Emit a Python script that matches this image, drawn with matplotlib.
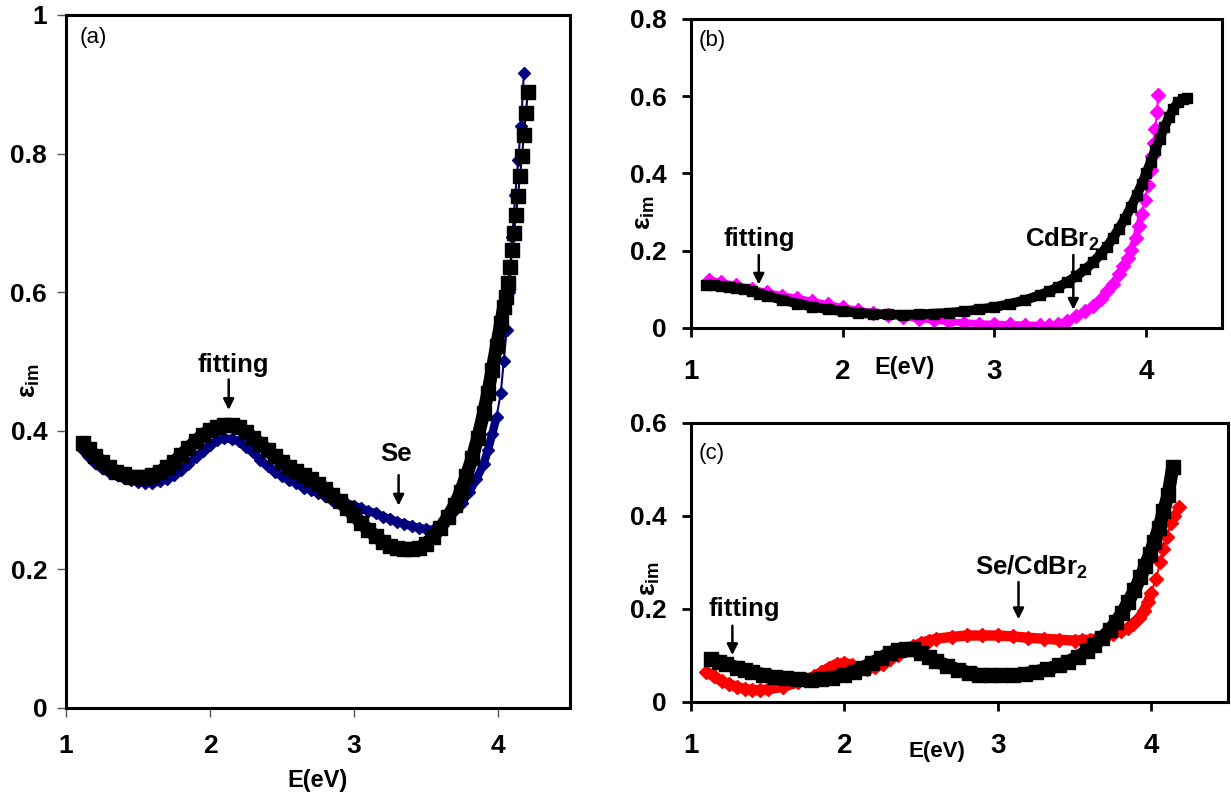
import numpy as np
import matplotlib.pyplot as plt

plt.rcParams['font.family'] = ['Liberation Sans', 'DejaVu Sans']
plt.rcParams['mathtext.fontset'] = 'custom'
plt.rcParams['mathtext.rm'] = 'Liberation Sans'
plt.rcParams['mathtext.bf'] = 'Liberation Sans:bold'

# ---------------- (a) Se ----------------
e_a_se = [1.12, 1.16, 1.2, 1.25, 1.3, 1.35, 1.4, 1.45, 1.5, 1.55, 1.6, 1.65, 1.7, 1.75,
          1.8, 1.85, 1.9, 1.95, 2.0, 2.05, 2.1, 2.15, 2.2, 2.25, 2.3, 2.35, 2.4, 2.45,
          2.5, 2.55, 2.6, 2.65, 2.7, 2.75, 2.8, 2.85, 2.9, 2.95, 3.0, 3.05, 3.1, 3.15,
          3.2, 3.25, 3.3, 3.35, 3.4, 3.45, 3.5, 3.55, 3.6, 3.65, 3.7, 3.75, 3.8, 3.85,
          3.9, 3.93, 3.96, 3.99, 4.02, 4.04, 4.06, 4.08, 4.1, 4.12, 4.14, 4.16, 4.18]
eps_a_se = [0.372, 0.362, 0.354, 0.346, 0.340, 0.337, 0.332, 0.329, 0.326, 0.325, 0.324, 0.327,
            0.330, 0.336, 0.343, 0.352, 0.362, 0.371, 0.380, 0.386, 0.389, 0.388, 0.385, 0.377,
            0.369, 0.358, 0.349, 0.341, 0.335, 0.329, 0.325, 0.318, 0.315, 0.310, 0.306, 0.300,
            0.298, 0.295, 0.292, 0.288, 0.284, 0.281, 0.276, 0.273, 0.268, 0.266, 0.262, 0.260,
            0.258, 0.257, 0.262, 0.272, 0.285, 0.296, 0.312, 0.330, 0.352, 0.372, 0.395, 0.420,
            0.455, 0.500, 0.545, 0.600, 0.680, 0.740, 0.790, 0.840, 0.916]

e_a_fit = [1.12, 1.16, 1.2, 1.25, 1.3, 1.35, 1.4, 1.45, 1.5, 1.55, 1.6, 1.65, 1.7, 1.75,
           1.8, 1.85, 1.9, 1.95, 2.0, 2.05, 2.1, 2.15, 2.2, 2.25, 2.3, 2.35, 2.4, 2.45,
           2.5, 2.55, 2.6, 2.65, 2.7, 2.75, 2.8, 2.85, 2.9, 2.95, 3.0, 3.05, 3.1, 3.15,
           3.2, 3.25, 3.3, 3.35, 3.4, 3.45, 3.5, 3.55, 3.6, 3.65, 3.7, 3.74, 3.78, 3.82,
           3.86, 3.9, 3.93, 3.96, 3.99, 4.02, 4.04, 4.056, 4.07, 4.084, 4.097, 4.11, 4.125,
           4.139, 4.153, 4.167, 4.18, 4.194, 4.208]
eps_a_fit = [0.383, 0.373, 0.364, 0.355, 0.347, 0.341, 0.337, 0.334, 0.333, 0.334, 0.336, 0.341,
             0.347, 0.355, 0.365, 0.375, 0.385, 0.394, 0.401, 0.406, 0.408, 0.408, 0.405, 0.398,
             0.390, 0.381, 0.372, 0.363, 0.355, 0.348, 0.342, 0.336, 0.330, 0.323, 0.316, 0.307,
             0.298, 0.288, 0.278, 0.267, 0.257, 0.248, 0.240, 0.234, 0.231, 0.229, 0.229, 0.231,
             0.237, 0.247, 0.260, 0.275, 0.293, 0.312, 0.335, 0.360, 0.390, 0.425, 0.455, 0.488,
             0.522, 0.556, 0.578, 0.593, 0.613, 0.637, 0.661, 0.685, 0.711, 0.739, 0.768, 0.797,
             0.827, 0.859, 0.889]

# ---------------- (b) CdBr2 ----------------
e_b_cd = [1.12, 1.2, 1.3, 1.4, 1.5, 1.6, 1.7, 1.8, 1.9, 2.0, 2.1, 2.2, 2.3, 2.4, 2.5, 2.6,
          2.7, 2.8, 2.9, 3.0, 3.1, 3.2, 3.3, 3.36, 3.42, 3.48, 3.54, 3.6, 3.65, 3.7, 3.74,
          3.78, 3.82, 3.85, 3.88, 3.9, 3.93, 3.95, 3.97, 3.99, 4.01, 4.03, 4.04, 4.05,
          4.06, 4.07, 4.08]
eps_b_cd = [0.125, 0.118, 0.110, 0.101, 0.092, 0.084, 0.077, 0.069, 0.061, 0.053, 0.046, 0.040,
            0.034, 0.029, 0.024, 0.020, 0.016, 0.014, 0.011, 0.010, 0.009, 0.008, 0.007, 0.007,
            0.010, 0.018, 0.030, 0.045, 0.058, 0.075, 0.095, 0.115, 0.140, 0.160, 0.180, 0.203,
            0.232, 0.263, 0.295, 0.330, 0.370, 0.410, 0.445, 0.480, 0.515, 0.558, 0.604]

e_b_fit = [1.1, 1.15, 1.2, 1.25, 1.3, 1.35, 1.4, 1.45, 1.5, 1.6, 1.7, 1.8, 1.9, 2.0, 2.1,
           2.2, 2.3, 2.4, 2.5, 2.6, 2.7, 2.8, 2.9, 3.0, 3.1, 3.2, 3.3, 3.36, 3.42, 3.48, 3.54,
           3.6, 3.65, 3.7, 3.74, 3.78, 3.82, 3.86, 3.9, 3.94, 3.97, 4.0, 4.03, 4.06, 4.09,
           4.12, 4.15, 4.18, 4.21, 4.24, 4.27]
eps_b_fit = [0.110, 0.110, 0.109, 0.107, 0.104, 0.100, 0.095, 0.089, 0.083, 0.073, 0.063, 0.055,
             0.048, 0.043, 0.039, 0.036, 0.035, 0.034, 0.035, 0.037, 0.039, 0.043, 0.048, 0.054,
             0.062, 0.072, 0.085, 0.095, 0.106, 0.119, 0.134, 0.152, 0.170, 0.191, 0.210, 0.232,
             0.257, 0.283, 0.313, 0.345, 0.372, 0.400, 0.430, 0.460, 0.490, 0.520, 0.545, 0.568,
             0.584, 0.593, 0.596]

# ---------------- (c) Se/CdBr2 ----------------
e_c_sc = [1.1, 1.15, 1.2, 1.25, 1.3, 1.35, 1.4, 1.45, 1.5, 1.6, 1.7, 1.8, 1.85, 1.9, 1.95,
          2.0, 2.05, 2.1, 2.15, 2.2, 2.25, 2.3, 2.35, 2.4, 2.45, 2.5, 2.55, 2.6, 2.7, 2.8,
          2.9, 3.0, 3.1, 3.2, 3.3, 3.4, 3.5, 3.55, 3.6, 3.65, 3.7, 3.75, 3.8, 3.85, 3.88,
          3.92, 3.95, 3.98, 4.0, 4.03, 4.06, 4.08, 4.1, 4.13, 4.15, 4.18]
eps_c_sc = [0.065, 0.055, 0.045, 0.038, 0.032, 0.028, 0.026, 0.025, 0.027, 0.033, 0.042, 0.055,
            0.064, 0.074, 0.082, 0.084, 0.080, 0.072, 0.070, 0.075, 0.082, 0.092, 0.102, 0.112,
            0.120, 0.127, 0.132, 0.136, 0.140, 0.143, 0.143, 0.143, 0.141, 0.138, 0.136, 0.134,
            0.132, 0.133, 0.134, 0.137, 0.140, 0.146, 0.152, 0.160, 0.168, 0.180, 0.195, 0.215,
            0.235, 0.265, 0.300, 0.330, 0.355, 0.385, 0.400, 0.419]

e_c_fit = [1.13, 1.18, 1.23, 1.3, 1.35, 1.4, 1.47, 1.55, 1.62, 1.7, 1.78, 1.85, 1.92, 2.0,
           2.06, 2.12, 2.18, 2.24, 2.3, 2.35, 2.4, 2.45, 2.5, 2.55, 2.6, 2.67, 2.74, 2.81,
           2.88, 2.95, 3.02, 3.1, 3.18, 3.25, 3.32, 3.4, 3.46, 3.52, 3.58, 3.63, 3.68, 3.73,
           3.77, 3.81, 3.85, 3.89, 3.93, 3.96, 3.99, 4.02, 4.05, 4.08, 4.11, 4.14]
eps_c_fit = [0.093, 0.087, 0.081, 0.074, 0.069, 0.064, 0.059, 0.054, 0.051, 0.049, 0.048, 0.049,
             0.052, 0.058, 0.065, 0.074, 0.084, 0.095, 0.106, 0.112, 0.115, 0.113, 0.106, 0.097,
             0.088, 0.078, 0.069, 0.063, 0.059, 0.057, 0.057, 0.058, 0.061, 0.065, 0.070, 0.079,
             0.087, 0.097, 0.110, 0.123, 0.138, 0.155, 0.172, 0.192, 0.215, 0.240, 0.268, 0.292,
             0.318, 0.345, 0.375, 0.410, 0.445, 0.505]

fig = plt.figure(figsize=(12.31, 7.96), dpi=100)
ax_a = fig.add_axes([0.0536, 0.1106, 0.4094, 0.8706])
ax_b = fig.add_axes([0.5613, 0.588, 0.4314, 0.3882])
ax_c = fig.add_axes([0.5613, 0.1181, 0.4362, 0.3505])

ylab = r'ε$_{\mathbf{im}}$'
arrow = dict(arrowstyle='-|>', color='k', lw=1.8, mutation_scale=16)


def band(ax, e, eps, cut, color, marker, ms, lw):
    # thick line where points sit close together, markers + thin line everywhere
    e = np.asarray(e)
    eps = np.asarray(eps)
    m = e <= cut
    ax.plot(e[m], eps[m], '-', color=color, lw=lw, solid_capstyle='butt')
    ax.plot(e, eps, '-' + marker, color=color, ms=ms, lw=1.5)


def style(ax, ymax, xsize, ysize):
    ax.set_xlim(1, 4.5)
    ax.set_ylim(0, ymax)
    ax.set_xticks([1, 2, 3, 4], ['1', '2', '3', '4'], fontsize=xsize, fontweight='bold')
    yt = np.round(np.arange(0, ymax + 1e-9, 0.2), 1)
    ax.set_yticks(yt, ['0' if v == 0 else ('%g' % v) for v in yt], fontsize=ysize, fontweight='bold')
    for s in ax.spines.values():
        s.set_linewidth(2.2)


# (a)
band(ax_a, e_a_se, eps_a_se, 4.0, '#000080', 'D', 6, 6)
band(ax_a, e_a_fit, eps_a_fit, 4.04, 'k', 's', 9.5, 9.5)
style(ax_a, 1.0, 19, 19)
ax_a.tick_params(axis='both', direction='out', length=6.5, width=1, color='#555555')
ax_a.tick_params(axis='x', pad=12)
ax_a.tick_params(axis='y', pad=7)
ax_a.set_xlabel('E(eV)', fontsize=17, fontweight='bold')
ax_a.xaxis.set_label_coords(0.5, -0.088)
fig.text(30 / 1231, 1 - 380 / 796, ylab, fontsize=19, fontweight='bold', rotation=90,
         ha='center', va='center')
ax_a.text(0.028, 0.9675, '(a)', transform=ax_a.transAxes, fontsize=16, va='center')
ax_a.text(2.16, 0.495, 'fitting', fontsize=18.5, fontweight='bold', ha='center', va='center')
ax_a.annotate('', xy=(2.13, 0.426), xytext=(2.13, 0.478), arrowprops=arrow)
ax_a.text(3.29, 0.367, 'Se', fontsize=18.5, fontweight='bold', ha='center', va='center')
ax_a.annotate('', xy=(3.31, 0.288), xytext=(3.31, 0.340), arrowprops=arrow)

# (b)
band(ax_b, e_b_cd, eps_b_cd, 3.97, '#FF00FF', 'D', 7, 5)
band(ax_b, e_b_fit, eps_b_fit, 4.3, 'k', 's', 7.5, 7)
style(ax_b, 0.8, 20, 19)
ax_b.tick_params(axis='both', direction='out', length=6.5, width=2)
ax_b.tick_params(axis='x', pad=16)
ax_b.tick_params(axis='y', pad=11)
ax_b.set_xlabel('E(eV)', fontsize=17, fontweight='bold')
ax_b.xaxis.set_label_coords(0.403, -0.09)
fig.text(645 / 1231, 1 - 212 / 796, ylab, fontsize=19, fontweight='bold', rotation=90,
         ha='center', va='center')
ax_b.text(0.015, 0.93, '(b)', transform=ax_b.transAxes, fontsize=16, va='center')
ax_b.text(1.45, 0.229, 'fitting', fontsize=18.5, fontweight='bold', ha='center', va='center')
ax_b.annotate('', xy=(1.447, 0.105), xytext=(1.447, 0.196), arrowprops=arrow)
ax_b.text(3.45, 0.229, r'CdBr$_{\mathbf{2}}$', fontsize=18.5, fontweight='bold', ha='center', va='center')
ax_b.annotate('', xy=(3.52, 0.040), xytext=(3.52, 0.196), arrowprops=arrow)

# (c)
band(ax_c, e_c_sc, eps_c_sc, 4.0, '#FF0000', 'D', 7, 7.5)
band(ax_c, e_c_fit, eps_c_fit, 4.15, 'k', 's', 10, 9.5)
style(ax_c, 0.6, 20, 19)
ax_c.tick_params(axis='both', direction='out', length=6.5, width=2)
ax_c.tick_params(axis='x', pad=16)
ax_c.tick_params(axis='y', pad=11)
ax_c.set_xlabel('E(eV)', fontsize=16, fontweight='bold')
ax_c.xaxis.set_label_coords(0.458, -0.14)
fig.text(650 / 1231, 1 - 578 / 796, ylab, fontsize=19, fontweight='bold', rotation=90,
         ha='center', va='center')
ax_c.text(0.015, 0.889, '(c)', transform=ax_c.transAxes, fontsize=16, va='center')
ax_c.text(1.35, 0.200, 'fitting', fontsize=18.5, fontweight='bold', ha='center', va='center')
ax_c.annotate('', xy=(1.27, 0.095), xytext=(1.27, 0.170), arrowprops=arrow)
ax_c.text(3.22, 0.290, r'Se/CdBr$_{\mathbf{2}}$', fontsize=18.5, fontweight='bold', ha='center', va='center')
ax_c.annotate('', xy=(3.135, 0.172), xytext=(3.135, 0.264), arrowprops=arrow)

fig.savefig('out.png', dpi=100)
